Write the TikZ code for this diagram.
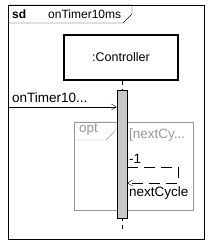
\documentclass[tikz,border=0pt]{standalone}
\usepackage{fontspec}
\setmainfont{Liberation Sans}
\usetikzlibrary{positioning,arrows.meta}
\definecolor{FrameGray}{RGB}{150, 150, 150}
\definecolor{BarGray}{RGB}{200, 200, 200}

\begin{document}
\begin{tikzpicture}[
        x=1pt, y=-1pt,
        font=\fontsize{12}{14}\selectfont,
        label/.style={inner sep=0pt, anchor=west},
        biglabel/.style={label, font=\fontsize{13.5}{15}\selectfont},
        lifeobj/.style={rectangle, draw, line width=2.4pt, minimum width=114pt,
                        minimum height=45pt, inner sep=0pt, font=\fontsize{12.5}{14}\selectfont},
        actbar/.style={rectangle, draw, fill=BarGray, minimum width=10pt,
                       minimum height=128pt, inner sep=0pt},
        msg/.style={-{Straight Barb[length=5pt,width=6pt]}, thin},
        reply/.style={msg, dashed, dash pattern=on 11pt off 6pt}
    ]
        \useasboundingbox (0,0) rectangle (213,243);

        % diagram frame
        \node[draw, thin, minimum width=196pt, minimum height=234pt, inner sep=0pt,
              anchor=north west] (frame) at (8,5) {};
        \draw[thin] (frame.north west) -- (132,5) -- (132,14) -- (123,23) -- (8,23);
        \node[label, font=\fontsize{12}{14}\selectfont\bfseries] (sd) at (12,14) {sd};
        \node[label] (title) at (48,14) {onTimer10ms};

        % lifeline
        \node[lifeobj] (ctrl) at (121,57.5) {:Controller};
        \coordinate (lifeend) at (122,231);
        \draw[thin, dashed, dash pattern=on 4pt off 4pt] (ctrl.south -| lifeend) -- (lifeend);

        % opt fragment
        \node[draw=FrameGray, thin, minimum width=119pt, minimum height=88pt, inner sep=0pt,
              anchor=north west] (opt) at (74,122) {};
        \draw[FrameGray, thin] (opt.north west) -- (115,122) -- (115,131) -- (106,140) -- (74,140);
        \node[biglabel, text=FrameGray] (optname) at (79,130) {opt};
        \node[biglabel, text=FrameGray] (guard) at (129,135) {[nextCy...};

        % activation
        \node[actbar, anchor=north] (act) at (122,90) {};

        % messages
        \coordinate (found) at (8,107);
        \draw[msg] (found) -- (act.west |- found);
        \node[biglabel] (trigger) at (12,98) {onTimer10...};

        \coordinate (selfa) at (178,167);
        \coordinate (selfb) at (178,183);
        \draw[reply] (act.east |- selfa) -- (selfa) -- (selfb) -- (act.east |- selfb);
        \node[biglabel] (seqno) at (129,159) {-1};
        \node[biglabel] (next) at (129,193) {nextCycle};
    \end{tikzpicture}
\end{document}
